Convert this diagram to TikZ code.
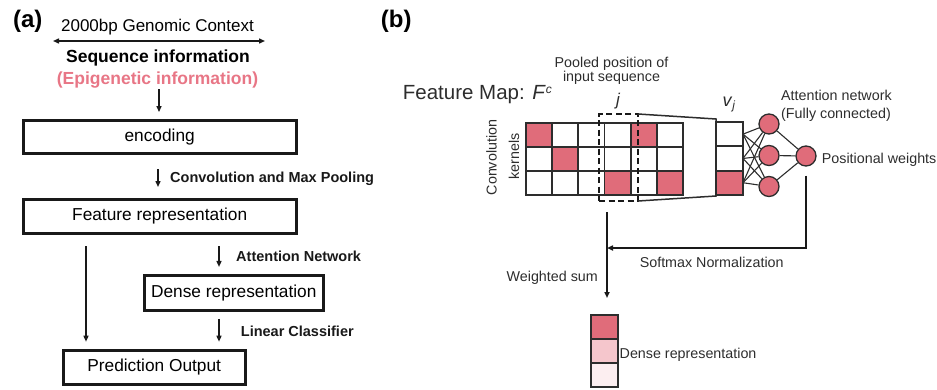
\documentclass[tikz,border=0pt]{standalone}
\usepackage{fontspec}
\setmainfont{Liberation Sans}
\usetikzlibrary{arrows.meta}

\definecolor{cellred}{RGB}{224,108,122}
\definecolor{epired}{RGB}{232,118,134}
\definecolor{densemid}{RGB}{245,198,204}
\definecolor{denselow}{RGB}{252,238,240}
\definecolor{ink}{RGB}{25,25,25}
\definecolor{inkb}{RGB}{45,45,45}

\begin{document}
\begin{tikzpicture}[x=1pt,y=-1pt,
  flowbox/.style={draw=ink, line width=3pt, inner sep=0pt, outer sep=0pt,
    minimum height=34pt, font=\fontsize{17.3}{20}\selectfont},
  arr/.style={draw=ink, line width=1.4pt, -{Triangle[length=6pt,width=5pt]}},
  arrboth/.style={draw=ink, line width=1.4pt, {Triangle[length=6pt,width=5pt]}-{Triangle[length=6pt,width=5pt]}},
  steplabel/.style={font=\bfseries\fontsize{14.5}{16}\selectfont, anchor=base west, inner sep=0pt, text=ink},
  btext/.style={font=\fontsize{14.3}{16}\selectfont, inner sep=0pt, text=inkb},
  cell/.style={draw=inkb, line width=1.8pt, inner sep=0pt, outer sep=0pt,
    minimum width=26.17pt, minimum height=24pt},
  vcell/.style={draw=inkb, line width=1.8pt, inner sep=0pt, outer sep=0pt,
    minimum width=27pt, minimum height=24.3pt},
  dcell/.style={draw=inkb, line width=1.8pt, inner sep=0pt, outer sep=0pt,
    minimum width=27.3pt, minimum height=23.9pt},
  neuron/.style={circle, draw=inkb, line width=1.3pt, fill=cellred,
    minimum size=20pt, inner sep=0pt},
  net/.style={draw=inkb, line width=1.1pt},
  frame/.style={draw=inkb, line width=1.5pt}
]
\useasboundingbox (0,0) rectangle (937,389);

% ---------------- panel (a): pipeline ----------------
\node[font=\bfseries\fontsize{24}{26}\selectfont, inner sep=0pt] (pa) at (27.7,21) {(a)};

\node[font=\fontsize{17}{20}\selectfont, anchor=base, inner sep=0pt] (ctx) at (157.5,31) {2000bp Genomic Context};
\coordinate (ctxL) at (53,41);
\coordinate (ctxR) at (265,41);
\draw[arrboth] (ctxL) -- (ctxR);

\node[font=\bfseries\fontsize{17.5}{20}\selectfont, anchor=base, inner sep=0pt] (seq) at (158,62.7) {Sequence information};
\node[font=\bfseries\fontsize{17.5}{20}\selectfont, anchor=base, inner sep=0pt, text=epired] (epi) at (157.5,84) {(Epigenetic information)};

\node[flowbox, minimum width=273pt, minimum height=32.7pt] (enc) at (159.7,137.2) {encoding};
\node[flowbox, minimum width=273pt] (feat) at (159.7,216.5) {Feature representation};
\node[flowbox, minimum width=179.3pt, minimum height=34.7pt] (dense) at (233.8,292.8) {Dense representation};
\node[flowbox, minimum width=182pt] (pred) at (154.2,367.5) {Prediction Output};

% arrow columns
\coordinate (colTop) at (159,0);
\coordinate (colMid) at (158,0);
\coordinate (colLeft) at (86,0);
\coordinate (colRight) at (219,0);

\draw[arr, shorten <=1.3pt, shorten >=8.8pt] (colTop |- epi.south) -- (colTop |- enc.north);
\draw[arr, shorten <=15.5pt, shorten >=12.5pt] (colMid |- enc.south) -- (colMid |- feat.north);
\draw[arr, shorten <=12.5pt, shorten >=8.8pt] (colLeft |- feat.south) -- (colLeft |- pred.north);
\draw[arr, shorten <=12.5pt, shorten >=8.5pt] (colRight |- feat.south) -- (colRight |- dense.north);
\draw[arr, shorten <=8.8pt, shorten >=8.8pt] (colRight |- dense.south) -- (colRight |- pred.north);

\node[steplabel] (lconv) at (170,182.3) {Convolution and Max Pooling};
\node[steplabel] (latt) at (236,261) {Attention Network};
\node[steplabel] (llin) at (240.7,336) {Linear Classifier};

% ---------------- panel (b): attention over feature map ----------------
\node[font=\bfseries\fontsize{24}{26}\selectfont, inner sep=0pt] (pb) at (396.3,21) {(b)};

\node[font=\fontsize{20.5}{24}\selectfont, anchor=base west, inner sep=0pt, text=inkb] (fmap) at (402.7,99.3)
  {Feature Map: \textit{F}\raisebox{0.55ex}{\fontsize{12}{12}\selectfont\textit{c}}};

\node[btext, anchor=base] (pool1) at (611.5,67) {Pooled position of};
\node[btext, anchor=base] (pool2) at (611.5,81) {input sequence};
\node[font=\itshape\fontsize{17}{18}\selectfont, anchor=base, inner sep=0pt, text=inkb] (jlab) at (618,105) {j};

\node[btext, rotate=90, anchor=base] (kern1) at (496.7,157.5) {Convolution};
\node[btext, rotate=90, anchor=base] (kern2) at (519,156.5) {kernels};

% feature map grid (3 kernels x 6 positions)
\foreach \r/\c/\f in {1/1/cellred,1/2/white,1/3/white,1/4/white,1/5/cellred,1/6/white,
                      2/1/white,2/2/cellred,2/3/white,2/4/white,2/5/white,2/6/white,
                      3/1/white,3/2/white,3/3/white,3/4/cellred,3/5/white,3/6/cellred}
  \node[cell, fill=\f] (g-\r-\c) at ({526+26.1667*(\c-0.5)}, {123+24*(\r-0.5)}) {};

% pooled window
\node[draw=ink, line width=2.4pt, dash pattern=on 6pt off 3.5pt, inner sep=0pt, outer sep=0pt,
      minimum width=39pt, minimum height=87pt] (pool) at (618.5,157.5) {};

% pooled vector v_j
\node[vcell, fill=white] (v1) at (729.5,134.15) {};
\node[vcell, fill=white] (v2) at (729.5,158.45) {};
\node[vcell, fill=cellred] (v3) at (729.5,182.75) {};
\coordinate (trT) at (716,119);
\coordinate (trB) at (716,196);
\draw[frame] (pool.north east) -- (trT) -- (trB) -- (pool.south east);
\node[font=\fontsize{18}{20}\selectfont, anchor=base, inner sep=0pt, text=inkb] (vlab) at (729,106)
  {\textit{v}\raisebox{-0.35ex}{\fontsize{12}{12}\selectfont\textit{j}}};

% attention network
\node[neuron] (h1) at (769,124) {};
\node[neuron] (h2) at (769,155.5) {};
\node[neuron] (h3) at (769,186.5) {};
\node[neuron] (pw) at (806,156) {};
\foreach \i in {1,2,3}
  \foreach \k in {1,2,3}
    \draw[net] (v\i.east) -- (h\k);
\foreach \k in {1,2,3}
  \draw[net] (h\k) -- (pw);

\node[btext, anchor=base west] (att1) at (781,100.7) {Attention network};
\node[btext, anchor=base west] (att2) at (781,118) {(Fully connected)};
\node[btext, anchor=base west] (pwl) at (821.7,163.3) {Positional weights};

% softmax feedback and weighted sum
\coordinate (smx) at (607,248);
\coordinate (wsx) at (607,212);
\draw[arr, line width=1.6pt, shorten <=9pt] (pw.south) -- (pw.south |- smx) -- (smx);

\node[dcell, fill=cellred] (d1) at (604.7,326.95) {};
\node[dcell, fill=densemid] (d2) at (604.7,350.85) {};
\node[dcell, fill=denselow] (d3) at (604.7,374.75) {};

\draw[arr, line width=1.6pt, shorten >=17pt] (wsx) -- (wsx |- d1.north);

\node[btext, anchor=base] (smlab) at (711.7,267.7) {Softmax Normalization};
\node[btext, anchor=base east] (wslab) at (598,281) {Weighted sum};
\node[btext, anchor=base west] (dlab) at (619.5,358) {Dense representation};
\end{tikzpicture}
\end{document}
